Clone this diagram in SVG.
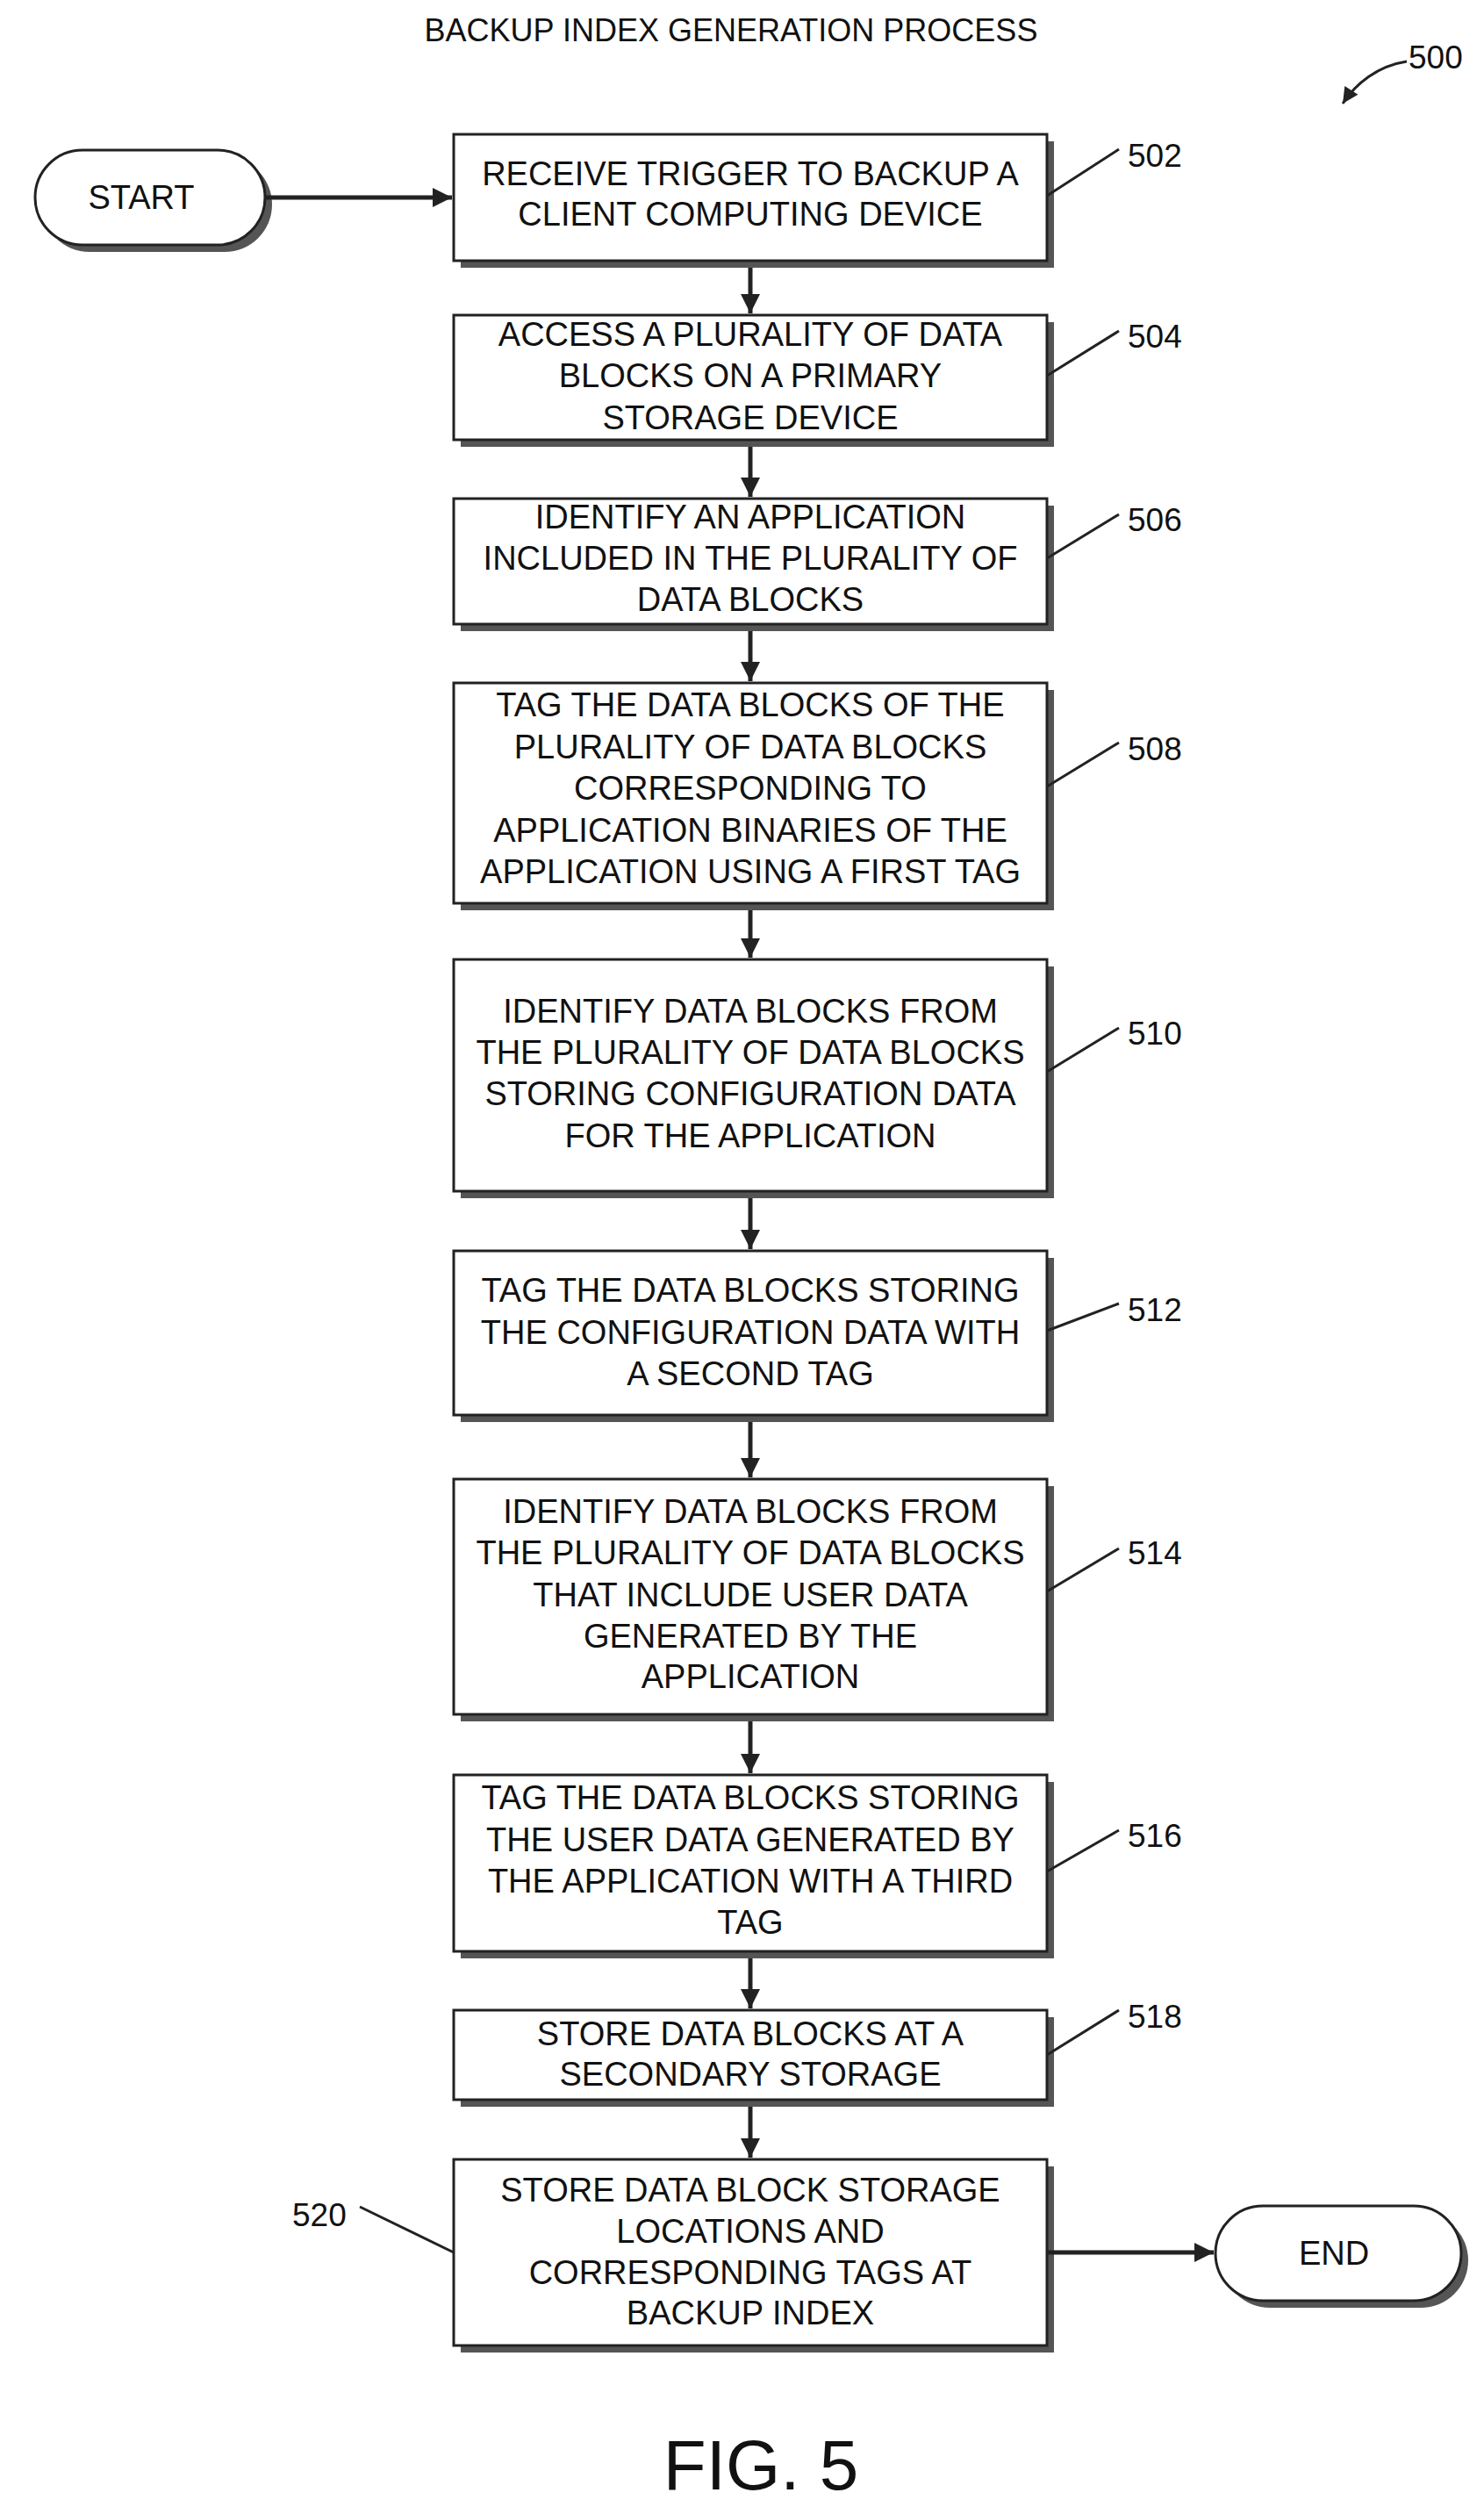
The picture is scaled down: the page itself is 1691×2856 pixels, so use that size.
<svg xmlns="http://www.w3.org/2000/svg" width="1691" height="2856" viewBox="0 0 1691 2856">
<style>
text{font-family:"Liberation Sans",Arial,sans-serif;fill:#111}
.t{font-size:38px;text-anchor:middle}
.n{font-size:37px}
.box{fill:#fff;stroke:#222;stroke-width:3}
.sh{fill:#555}
.ln{stroke:#222;stroke-width:3;fill:none}
.c{stroke:#222;stroke-width:5;fill:none}
</style>
<defs>
<marker id="ah" viewBox="0 0 10 10" refX="10" refY="5" markerWidth="26" markerHeight="22" markerUnits="userSpaceOnUse" orient="auto">
<path d="M0,0 L10,5 L0,10 z" fill="#222"/>
</marker>
<marker id="a2" viewBox="0 0 10 10" refX="10" refY="5" markerWidth="22" markerHeight="18" markerUnits="userSpaceOnUse" orient="auto"><path d="M0,0 L10,5 L0,10 z" fill="#222"/></marker>
</defs>
<rect width="1691" height="2856" fill="#fff"/>
<text x="833" y="47" style="font-size:36px;text-anchor:middle">BACKUP INDEX GENERATION PROCESS</text>
<g id="ref500"><text x="1605" y="78" class="n">500</text><path d="M1603,70 C1570,75 1545,95 1530,118" class="ln" marker-end="url(#a2)"/></g>
<text x="867" y="2836" style="font-size:80px;text-anchor:middle">FIG. 5</text>

<g id="start"><rect x="48" y="179" width="262" height="108" rx="54" class="sh"/><rect x="40" y="171" width="262" height="108" rx="54" class="box"/><text x="161" y="238" class="t">START</text></g>
<g id="end"><rect x="1393" y="2521" width="280" height="108" rx="54" class="sh"/><rect x="1385" y="2513" width="280" height="108" rx="54" class="box"/><text x="1520" y="2580" class="t">END</text></g>

<g id="n502"><rect x="525" y="161" width="676" height="144" class="sh"/><rect x="517" y="153" width="676" height="144" class="box"/>
<text class="t"><tspan x="855" y="211">RECEIVE TRIGGER TO BACKUP A</tspan><tspan x="855" y="257">CLIENT COMPUTING DEVICE</tspan></text>
<text x="1285" y="190" class="n">502</text><line x1="1193" y1="223" x2="1275" y2="170" class="ln"/></g>

<g id="n504"><rect x="525" y="367" width="676" height="142" class="sh"/><rect x="517" y="359" width="676" height="142" class="box"/>
<text class="t"><tspan x="855" y="394">ACCESS A PLURALITY OF DATA</tspan><tspan x="855" y="441">BLOCKS ON A PRIMARY</tspan><tspan x="855" y="489">STORAGE DEVICE</tspan></text>
<text x="1285" y="396" class="n">504</text><line x1="1193" y1="428" x2="1275" y2="377" class="ln"/></g>

<g id="n506"><rect x="525" y="576" width="676" height="143" class="sh"/><rect x="517" y="568" width="676" height="143" class="box"/>
<text class="t"><tspan x="855" y="602">IDENTIFY AN APPLICATION</tspan><tspan x="855" y="649">INCLUDED IN THE PLURALITY OF</tspan><tspan x="855" y="696">DATA BLOCKS</tspan></text>
<text x="1285" y="605" class="n">506</text><line x1="1193" y1="636" x2="1275" y2="586" class="ln"/></g>

<g id="n508"><rect x="525" y="786" width="676" height="251" class="sh"/><rect x="517" y="778" width="676" height="251" class="box"/>
<text class="t"><tspan x="855" y="816">TAG THE DATA BLOCKS OF THE</tspan><tspan x="855" y="864">PLURALITY OF DATA BLOCKS</tspan><tspan x="855" y="911">CORRESPONDING TO</tspan><tspan x="855" y="959">APPLICATION BINARIES OF THE</tspan><tspan x="855" y="1006">APPLICATION USING A FIRST TAG</tspan></text>
<text x="1285" y="866" class="n">508</text><line x1="1193" y1="896" x2="1275" y2="846" class="ln"/></g>

<g id="n510"><rect x="525" y="1101" width="676" height="264" class="sh"/><rect x="517" y="1093" width="676" height="264" class="box"/>
<text class="t"><tspan x="855" y="1165">IDENTIFY DATA BLOCKS FROM</tspan><tspan x="855" y="1212">THE PLURALITY OF DATA BLOCKS</tspan><tspan x="855" y="1259">STORING CONFIGURATION DATA</tspan><tspan x="855" y="1307">FOR THE APPLICATION</tspan></text>
<text x="1285" y="1190" class="n">510</text><line x1="1193" y1="1221" x2="1275" y2="1171" class="ln"/></g>

<g id="n512"><rect x="525" y="1433" width="676" height="187" class="sh"/><rect x="517" y="1425" width="676" height="187" class="box"/>
<text class="t"><tspan x="855" y="1483">TAG THE DATA BLOCKS STORING</tspan><tspan x="855" y="1531">THE CONFIGURATION DATA WITH</tspan><tspan x="855" y="1578">A SECOND TAG</tspan></text>
<text x="1285" y="1505" class="n">512</text><line x1="1193" y1="1516" x2="1275" y2="1485" class="ln"/></g>

<g id="n514"><rect x="525" y="1693" width="676" height="268" class="sh"/><rect x="517" y="1685" width="676" height="268" class="box"/>
<text class="t"><tspan x="855" y="1735">IDENTIFY DATA BLOCKS FROM</tspan><tspan x="855" y="1782">THE PLURALITY OF DATA BLOCKS</tspan><tspan x="855" y="1830">THAT INCLUDE USER DATA</tspan><tspan x="855" y="1877">GENERATED BY THE</tspan><tspan x="855" y="1923">APPLICATION</tspan></text>
<text x="1285" y="1782" class="n">514</text><line x1="1193" y1="1813" x2="1275" y2="1764" class="ln"/></g>

<g id="n516"><rect x="525" y="2030" width="676" height="201" class="sh"/><rect x="517" y="2022" width="676" height="201" class="box"/>
<text class="t"><tspan x="855" y="2061">TAG THE DATA BLOCKS STORING</tspan><tspan x="855" y="2109">THE USER DATA GENERATED BY</tspan><tspan x="855" y="2156">THE APPLICATION WITH A THIRD</tspan><tspan x="855" y="2203">TAG</tspan></text>
<text x="1285" y="2104" class="n">516</text><line x1="1193" y1="2132" x2="1275" y2="2085" class="ln"/></g>

<g id="n518"><rect x="525" y="2298" width="676" height="102" class="sh"/><rect x="517" y="2290" width="676" height="102" class="box"/>
<text class="t"><tspan x="855" y="2330">STORE DATA BLOCKS AT A</tspan><tspan x="855" y="2376">SECONDARY STORAGE</tspan></text>
<text x="1285" y="2310" class="n">518</text><line x1="1193" y1="2341" x2="1275" y2="2290" class="ln"/></g>

<g id="n520"><rect x="525" y="2468" width="676" height="212" class="sh"/><rect x="517" y="2460" width="676" height="212" class="box"/>
<text class="t"><tspan x="855" y="2508">STORE DATA BLOCK STORAGE</tspan><tspan x="855" y="2555">LOCATIONS AND</tspan><tspan x="855" y="2602">CORRESPONDING TAGS AT</tspan><tspan x="855" y="2648">BACKUP INDEX</tspan></text>
<text x="333" y="2536" class="n">520</text><line x1="410" y1="2514" x2="517" y2="2566" class="ln"/></g>

<g id="connectors">
<line x1="302" y1="225" x2="515" y2="225" class="c" marker-end="url(#ah)"/>
<line x1="855" y1="305" x2="855" y2="357" class="c" marker-end="url(#ah)"/>
<line x1="855" y1="509" x2="855" y2="566" class="c" marker-end="url(#ah)"/>
<line x1="855" y1="719" x2="855" y2="776" class="c" marker-end="url(#ah)"/>
<line x1="855" y1="1037" x2="855" y2="1091" class="c" marker-end="url(#ah)"/>
<line x1="855" y1="1365" x2="855" y2="1423" class="c" marker-end="url(#ah)"/>
<line x1="855" y1="1620" x2="855" y2="1683" class="c" marker-end="url(#ah)"/>
<line x1="855" y1="1961" x2="855" y2="2020" class="c" marker-end="url(#ah)"/>
<line x1="855" y1="2231" x2="855" y2="2288" class="c" marker-end="url(#ah)"/>
<line x1="855" y1="2400" x2="855" y2="2458" class="c" marker-end="url(#ah)"/>
<line x1="1193" y1="2566" x2="1383" y2="2566" class="c" marker-end="url(#ah)"/>
</g>
</svg>
